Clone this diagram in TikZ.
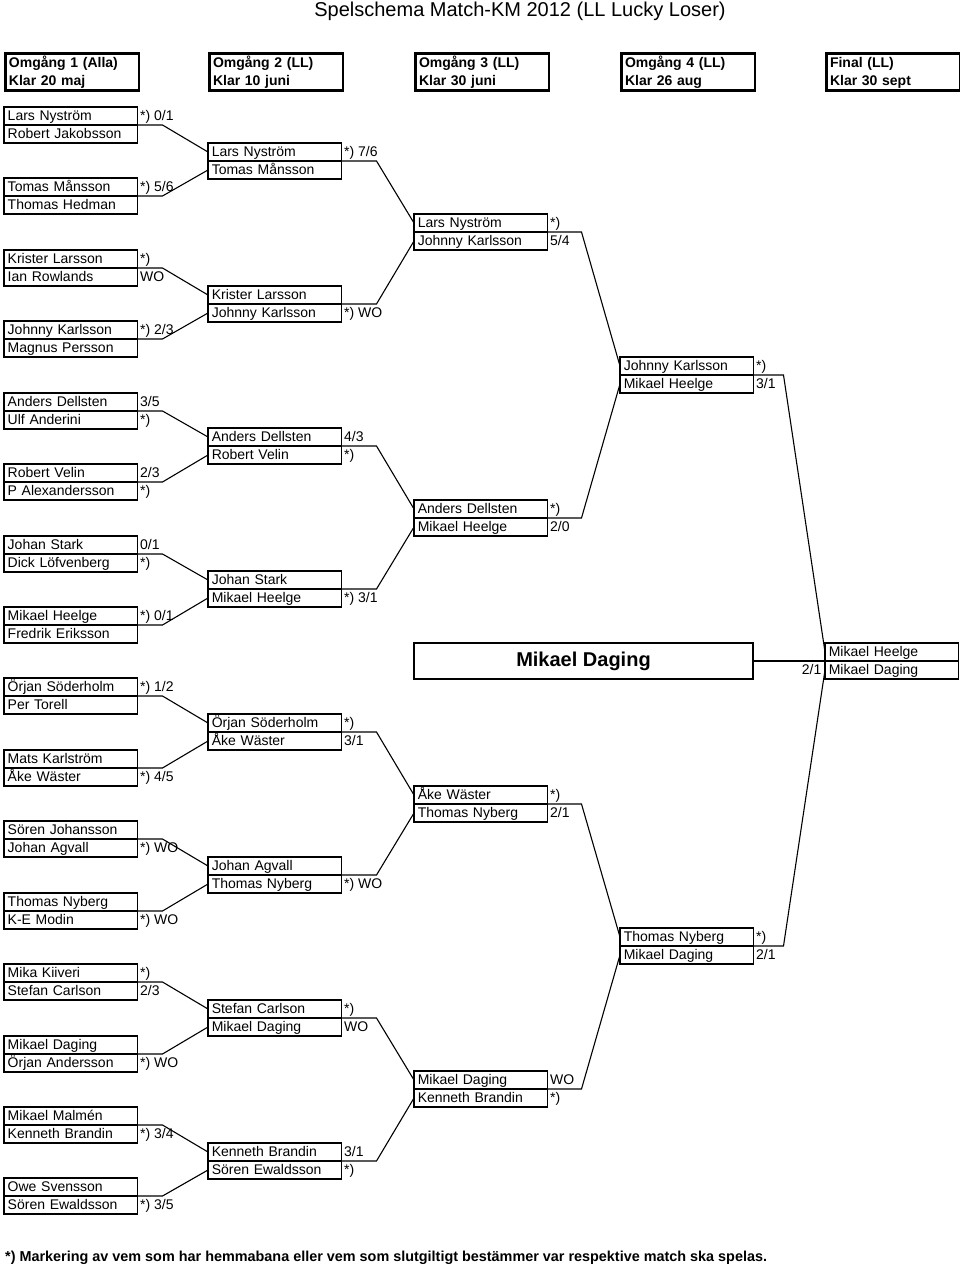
\documentclass[tikz,border=0pt]{standalone}
\usepackage{fontspec}
\setmainfont{Liberation Sans}
\tikzset{
 pl/.style={draw, line width=1.2pt, outer sep=0pt, minimum height=18pt, text width=126pt, inner xsep=3.75pt, inner ysep=0pt, align=left, text height=11pt, text depth=3pt, font=\fontsize{14}{16}\selectfont, anchor=north west},
 sc/.style={anchor=west, inner sep=0pt, xshift=2.5pt, text height=11pt, text depth=3pt, font=\fontsize{14}{16}\selectfont},
 conn/.style={line width=1.1pt},
 hdr/.style={draw, line width=2.5pt, anchor=north west, minimum height=37pt, text width=126pt, inner xsep=3.75pt, inner ysep=0pt, text height=11pt, text depth=20pt, align=left, font=\fontsize{14}{18}\selectfont\bfseries},
}
\newcommand\matchbox[7]{%
 \node[pl] (#1-a) at (#2,#3) {#4};
 \node[pl] (#1-b) at (#1-a.south west) {#5};
 \if\relax\detokenize{#6}\relax\else\node[sc] (#1-s) at (#1-a.east) {#6};\fi
 \if\relax\detokenize{#7}\relax\else\node[sc] (#1-t) at (#1-b.east) {#7};\fi
}
\begin{document}
\begin{tikzpicture}[x=1pt,y=-1pt]
\useasboundingbox (0,0) rectangle (960,1270);
\node[font=\fontsize{20}{24}\selectfont] (title) at (520,11) {Spelschema Match-KM 2012 (LL Lucky Loser)};
% headers
\node[hdr] (h1) at (4,52) {Omgång 1 (Alla)\\Klar 20 maj};
\node[hdr] (h2) at (208,52) {Omgång 2 (LL)\\Klar 10 juni};
\node[hdr] (h3) at (414,52) {Omgång 3 (LL)\\Klar 30 juni};
\node[hdr] (h4) at (620,52) {Omgång 4 (LL)\\Klar 26 aug};
\node[hdr] (h5) at (825,52) {Final (LL)\\Klar 30 sept};
% round 1
\matchbox{r1m1}{4}{107}{Lars Nyström}{Robert Jakobsson}{*) 0/1}{}
\matchbox{r1m2}{4}{178}{Tomas Månsson}{Thomas Hedman}{*) 5/6}{}
\matchbox{r1m3}{4}{250}{Krister Larsson}{Ian Rowlands}{*)}{WO}
\matchbox{r1m4}{4}{321}{Johnny Karlsson}{Magnus Persson}{*) 2/3}{}
\matchbox{r1m5}{4}{393}{Anders Dellsten}{Ulf Anderini}{3/5}{*)}
\matchbox{r1m6}{4}{464}{Robert Velin}{P Alexandersson}{2/3}{*)}
\matchbox{r1m7}{4}{536}{Johan Stark}{Dick Löfvenberg}{0/1}{*)}
\matchbox{r1m8}{4}{607}{Mikael Heelge}{Fredrik Eriksson}{*) 0/1}{}
\matchbox{r1m9}{4}{678}{Örjan Söderholm}{Per Torell}{*) 1/2}{}
\matchbox{r1m10}{4}{750}{Mats Karlström}{Åke Wäster}{}{*) 4/5}
\matchbox{r1m11}{4}{821}{Sören Johansson}{Johan Agvall}{}{*) WO}
\matchbox{r1m12}{4}{893}{Thomas Nyberg}{K-E Modin}{}{*) WO}
\matchbox{r1m13}{4}{964}{Mika Kiiveri}{Stefan Carlson}{*)}{2/3}
\matchbox{r1m14}{4}{1036}{Mikael Daging}{Örjan Andersson}{}{*) WO}
\matchbox{r1m15}{4}{1107}{Mikael Malmén}{Kenneth Brandin}{}{*) 3/4}
\matchbox{r1m16}{4}{1178}{Owe Svensson}{Sören Ewaldsson}{}{*) 3/5}
% round 2
\matchbox{r2m1}{208}{143}{Lars Nyström}{Tomas Månsson}{*) 7/6}{}
\matchbox{r2m2}{208}{286}{Krister Larsson}{Johnny Karlsson}{}{*) WO}
\matchbox{r2m3}{208}{428}{Anders Dellsten}{Robert Velin}{4/3}{*)}
\matchbox{r2m4}{208}{571}{Johan Stark}{Mikael Heelge}{}{*) 3/1}
\matchbox{r2m5}{208}{714}{Örjan Söderholm}{Åke Wäster}{*)}{3/1}
\matchbox{r2m6}{208}{857}{Johan Agvall}{Thomas Nyberg}{}{*) WO}
\matchbox{r2m7}{208}{1000}{Stefan Carlson}{Mikael Daging}{*)}{WO}
\matchbox{r2m8}{208}{1143}{Kenneth Brandin}{Sören Ewaldsson}{3/1}{*)}
% round 3
\matchbox{r3m1}{414}{214}{Lars Nyström}{Johnny Karlsson}{*)}{5/4}
\matchbox{r3m2}{414}{500}{Anders Dellsten}{Mikael Heelge}{*)}{2/0}
\matchbox{r3m3}{414}{786}{Åke Wäster}{Thomas Nyberg}{*)}{2/1}
\matchbox{r3m4}{414}{1071}{Mikael Daging}{Kenneth Brandin}{WO}{*)}
% round 4
\matchbox{r4m1}{620}{357}{Johnny Karlsson}{Mikael Heelge}{*)}{3/1}
\matchbox{r4m2}{620}{928}{Thomas Nyberg}{Mikael Daging}{*)}{2/1}
% final
\matchbox{fm}{825}{643}{Mikael Heelge}{Mikael Daging}{}{}
\node[anchor=east, inner sep=0pt, text height=11pt, text depth=3pt, font=\fontsize{14}{16}\selectfont] (fs) at ([xshift=-3.5pt]fm-b.west) {2/1};
\node[draw, line width=1.2pt, anchor=north west, minimum width=339pt, minimum height=36pt, outer sep=0pt, font=\fontsize{20}{24}\selectfont\bfseries] (winner) at (414,643) {Mikael Daging};
% connectors
\foreach \i in {1,...,8} {
  \pgfmathtruncatemacro\ia{2*\i-1}
  \pgfmathtruncatemacro\ib{2*\i}
  \draw[conn] (r1m\ia-a.south east) -- ++(25,0) -- (r2m\i-a.west);
  \draw[conn] (r1m\ib-a.south east) -- ++(25,0) -- (r2m\i-b.west);
}
\foreach \i in {1,...,4} {
  \pgfmathtruncatemacro\ia{2*\i-1}
  \pgfmathtruncatemacro\ib{2*\i}
  \draw[conn] (r2m\ia-a.south east) -- ++(35,0) -- (r3m\i-a.west);
  \draw[conn] (r2m\ib-a.south east) -- ++(35,0) -- (r3m\i-b.west);
}
\foreach \i in {1,2} {
  \pgfmathtruncatemacro\ia{2*\i-1}
  \pgfmathtruncatemacro\ib{2*\i}
  \draw[conn] (r3m\ia-a.south east) -- ++(34,0) -- (r4m\i-a.west);
  \draw[conn] (r3m\ib-a.south east) -- ++(34,0) -- (r4m\i-b.west);
}
\draw[conn] (r4m1-a.south east) -- ++(30,0) -- (fm-a.west);
\draw[conn] (r4m2-a.south east) -- ++(30,0) -- (fm-b.west);
\draw[conn] (winner.east) -- (winner.east -| fm-a.west);
\node[anchor=west, inner sep=0pt, font=\fontsize{14.4}{16}\selectfont\bfseries] (note) at (5,1258) {*) Markering av vem som har hemmabana eller vem som slutgiltigt bestämmer var respektive match ska spelas.};
\end{tikzpicture}
\end{document}
